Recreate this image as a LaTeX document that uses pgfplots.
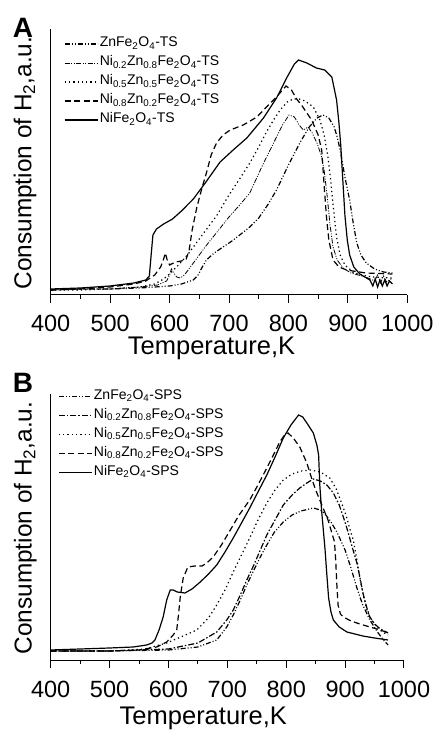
\documentclass[border=0pt]{standalone}
\usepackage{fontspec}
\setmainfont{Liberation Sans}
\usepackage{pgfplots}
\pgfplotsset{compat=1.18}
\newcommand\sub[1]{\textsubscript{#1}}
\pgfplotsset{
  tpr/.style={
    scale only axis, height=266pt,
    xmin=400, xmax=1000, ymin=0, ymax=266,
    axis lines=left, axis line style={-, line width=1pt},
    ytick=\empty, xtick={400,500,...,1000}, minor x tick num=1,
    tick align=outside, major tick length=8pt, minor tick length=4pt,
    tick style={line width=1pt, black},
    /pgf/number format/assume math mode=true,
    /pgf/number format/set thousands separator={},
    xticklabel style={font=\fontsize{23.5}{23.5}\selectfont, anchor=base, yshift=-29pt},
    xlabel={Temperature,K},
    ylabel={Consumption of H\sub{2},a.u.},
    xlabel style={font=\fontsize{25.5}{25.5}\selectfont},
    ylabel style={font=\fontsize{24.4}{24.4}\selectfont, at={(axis description cs:-0.072,0.496)}, anchor=center, rotate=0},
    clip=false,
    legend image code/.code={\draw[##1] (0pt,0pt) -- (33pt,0pt);},
    legend cell align=left,
    legend style={draw=none, fill=none, inner sep=0pt, anchor=north west,
      font=\fontsize{14}{14}\selectfont,
      nodes={inner ysep=0pt, inner xsep=1.5pt, text height=10pt, text depth=4pt},
      row sep=5pt},
  },
  zn/.style={black, line width=1.2pt, dash pattern=on 5pt off 2pt on 1pt off 2pt on 1pt off 2pt},
  nitwoA/.style={black, line width=0.8pt, dash pattern=on 5pt off 1.5pt on 1pt off 1.5pt on 1pt off 1.5pt},
  nitwoB/.style={black, line width=1.2pt, dash pattern=on 6pt off 2pt on 1.5pt off 2pt},
  nifive/.style={black, line width=1.2pt, dash pattern=on 1.3pt off 3pt},
  nieight/.style={black, line width=1.2pt, dash pattern=on 6pt off 3.5pt},
  nife/.style={black, line width=1.2pt},
}
\begin{document}
\begin{tikzpicture}
\path[use as bounding box] (0pt,0pt) rectangle (433pt,731pt);
% ---------------- Panel A ----------------
\begin{axis}[tpr, width=356.6pt, at={(50.7pt,436pt)}, anchor=south west,
  xlabel style={at={(axis description cs:0.451,0)}, anchor=base, yshift=-60pt},
  legend style={at={(axis description cs:0.037,0.971)}}]
\addplot[zn] coordinates {(400,5)(450,6)(500,6)(550,7)(600,9)(620,11)(640,15)(648,20)(655,28)(662,35)(675,42)(690,48)(705,54)(718,60)(735,68)(750,77)(765,90)(780,105)(800,130)(820,153)(835,168)(848,177)(858,180)(868,177)(877,168)(882,158)(887,145)(895,118)(903,95)(909,72)(915,52)(922,40)(931,32)(945,26)(960,23)(975,22)};
\addlegendentry{ZnFe\sub{2}O\sub{4}-TS}
\addplot[nitwoA] coordinates {(400,5)(450,6)(500,6)(550,8)(580,10)(595,14)(600,20)(603,26)(607,22)(612,18)(618,17)(625,20)(635,28)(650,40)(665,52)(680,63)(700,78)(718,90)(735,102)(755,128)(775,152)(790,170)(801,180)(810,178)(818,170)(825,165)(833,168)(840,162)(848,152)(855,140)(860,125)(865,100)(870,70)(875,48)(882,35)(892,27)(905,22)(930,18)(945,14)(950,20)(955,12)(960,19)(965,13)(975,17)};
\addlegendentry{Ni\sub{0.2}Zn\sub{0.8}Fe\sub{2}O\sub{4}-TS}
\addplot[nifive] coordinates {(400,5)(450,5)(500,6)(550,8)(575,11)(590,16)(600,21)(615,30)(630,40)(645,52)(660,64)(680,80)(700,100)(720,118)(735,132)(750,148)(763,163)(775,175)(786,185)(798,193)(808,196)(818,196)(828,194)(842,188)(853,175)(860,160)(866,140)(871,115)(876,85)(881,58)(887,40)(895,30)(910,22)(940,18)(975,17)};
\addlegendentry{Ni\sub{0.5}Zn\sub{0.5}Fe\sub{2}O\sub{4}-TS}
\addplot[nieight] coordinates {(400,5)(450,6)(500,8)(540,11)(560,14)(575,20)(585,28)(590,36)(593,42)(596,35)(600,30)(610,33)(620,34)(628,36)(633,45)(638,65)(646,88)(655,108)(662,122)(670,140)(679,152)(690,160)(702,165)(724,170)(747,178)(763,188)(780,198)(790,205)(796,209)(805,205)(815,195)(822,190)(839,175)(850,160)(856,145)(860,110)(864,78)(868,55)(875,35)(885,28)(898,25)(930,22)(975,21)};
\addlegendentry{Ni\sub{0.8}Zn\sub{0.2}Fe\sub{2}O\sub{4}-TS}
\addplot[nife] coordinates {(400,6)(450,7)(500,9)(540,12)(560,15)(566,19)(569,40)(572,60)(578,66)(590,71)(605,76)(620,84)(640,96)(660,112)(685,133)(707,145)(730,157)(758,177)(780,197)(797,217)(810,231)(817,235)(831,232)(847,227)(861,225)(873,218)(881,195)(885,172)(888,150)(892,110)(895,80)(899,55)(903,40)(910,28)(920,21)(937,15)(942,9)(946,16)(950,8)(954,15)(958,9)(962,15)(966,9)(970,14)(975,11)};
\addlegendentry{NiFe\sub{2}O\sub{4}-TS}
\node[font=\bfseries\fontsize{28}{28}\selectfont] at (axis description cs:-0.0777,1.0038) {A};
\end{axis}
% ---------------- Panel B ----------------
\begin{axis}[tpr, width=353.3pt, at={(50.7pt,71pt)}, anchor=south west,
  xlabel style={at={(axis description cs:0.432,0)}, anchor=base, yshift=-64pt},
  legend style={at={(axis description cs:0.0207,1.0177)}}]
\addplot[zn] coordinates {(400,9)(500,9)(600,10)(650,13)(682,20)(699,33)(710,45)(722,60)(733,75)(745,90)(756,103)(767,115)(780,128)(795,138)(810,145)(825,149)(846,152)(858,150)(866,146)(876,138)(886,128)(900,110)(910,92)(920,72)(930,55)(942,40)(955,28)(965,20)(973,15)};
\addlegendentry{ZnFe\sub{2}O\sub{4}-SPS}
\addplot[nitwoB] coordinates {(400,9)(500,9)(600,11)(650,17)(682,28)(699,40)(710,50)(722,65)(733,80)(745,95)(756,110)(767,125)(781,140)(795,155)(810,165)(823,172)(835,177)(846,181)(858,179)(869,175)(880,167)(890,155)(897,143)(905,128)(912,113)(920,97)(926,80)(931,65)(937,52)(942,43)(950,36)(960,31)(973,27)};
\addlegendentry{Ni\sub{0.2}Zn\sub{0.8}Fe\sub{2}O\sub{4}-SPS}
\addplot[nifive] coordinates {(400,9)(500,9)(560,11)(597,17)(625,24)(648,30)(668,42)(682,55)(696,70)(710,88)(724,105)(738,122)(752,140)(767,157)(781,170)(795,180)(810,186)(825,189)(841,190)(858,188)(874,182)(885,171)(894,157)(902,144)(908,131)(914,120)(920,100)(925,82)(931,65)(937,50)(945,40)(954,33)(963,28)(973,25)};
\addlegendentry{Ni\sub{0.5}Zn\sub{0.5}Fe\sub{2}O\sub{4}-SPS}
\addplot[nieight] coordinates {(400,9)(450,9)(500,9)(550,10)(580,13)(597,18)(608,25)(614,30)(617,45)(620,63)(625,82)(633,93)(645,94)(657,94)(665,97)(676,103)(690,115)(705,130)(720,145)(738,160)(752,175)(767,192)(779,206)(789,218)(796,224)(803,227)(812,222)(823,213)(835,197)(843,182)(850,170)(857,160)(864,150)(871,140)(877,128)(882,118)(884,100)(886,75)(888,55)(892,46)(897,43)(910,39)(925,36)(942,33)(960,30)(973,27)};
\addlegendentry{Ni\sub{0.8}Zn\sub{0.2}Fe\sub{2}O\sub{4}-SPS}
\addplot[nife] coordinates {(400,10)(450,11)(500,12)(540,13)(563,15)(572,17)(577,20)(584,30)(591,43)(597,60)(603,70)(608,70)(615,68)(628,67)(640,71)(654,78)(668,86)(682,95)(696,108)(710,122)(724,137)(738,152)(752,168)(767,185)(781,203)(795,222)(808,235)(821,245)(828,243)(835,237)(846,227)(852,215)(855,205)(857,175)(860,150)(863,130)(866,110)(869,85)(872,62)(876,48)(880,40)(890,33)(903,28)(930,24)(950,22)(973,20)};
\addlegendentry{NiFe\sub{2}O\sub{4}-SPS}
\node[font=\bfseries\fontsize{28}{28}\selectfont] at (axis description cs:-0.0784,1.043) {B};
\end{axis}
\end{tikzpicture}
\end{document}
